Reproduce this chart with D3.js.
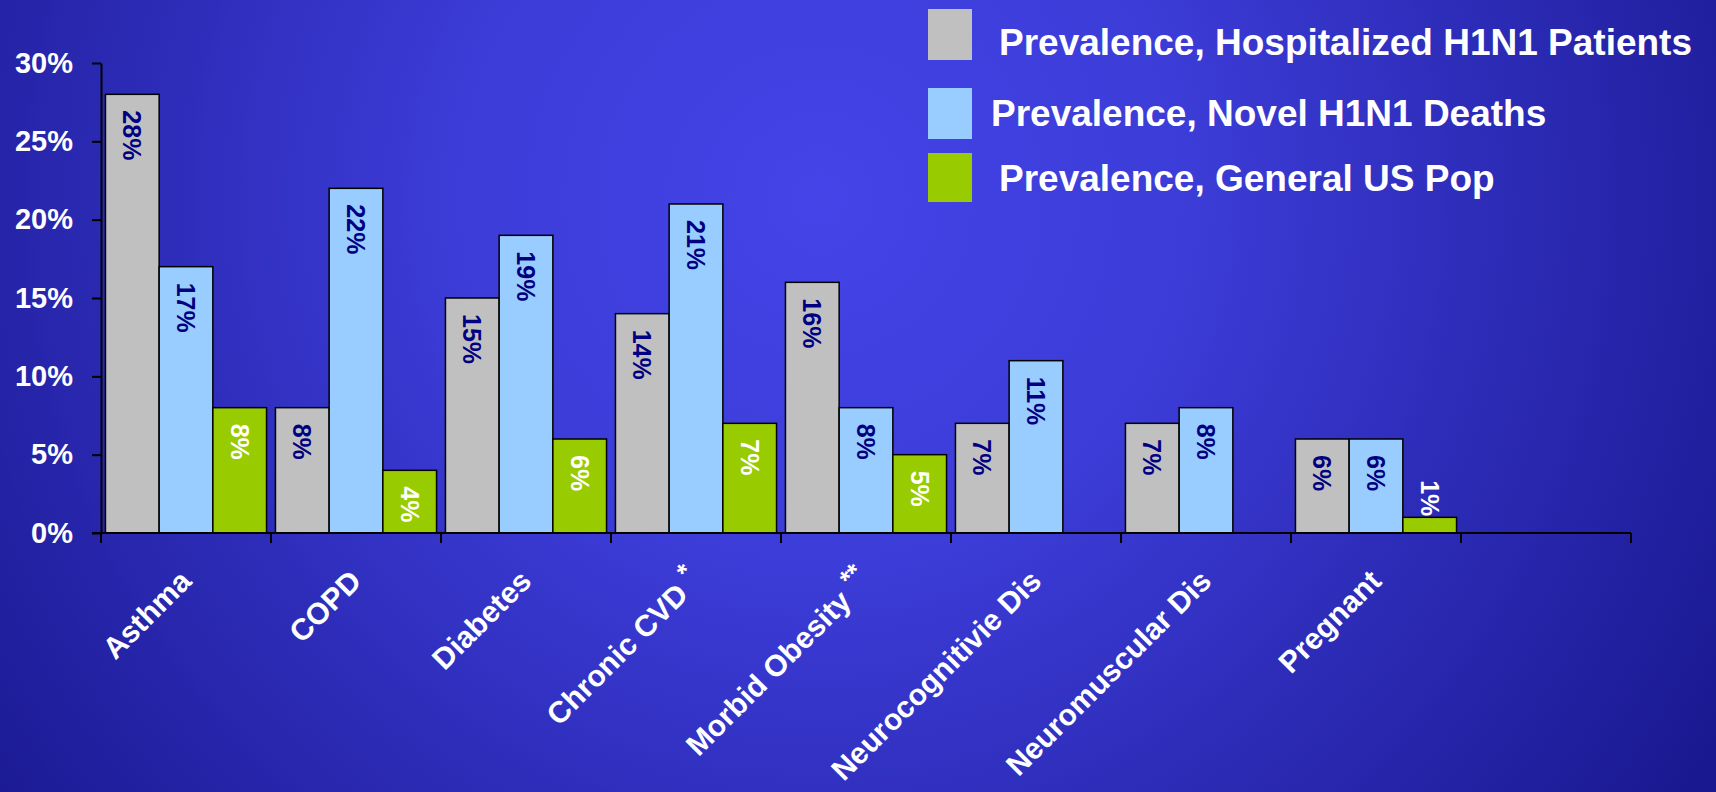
<!DOCTYPE html>
<html>
<head>
<meta charset="utf-8">
<script src="https://cdn.jsdelivr.net/npm/d3@7"></script>
<style>
  body { margin: 0; background: #1a1890; }
  svg { display: block; font-family: "Liberation Sans", Arial, sans-serif; }
</style>
</head>
<body>
<svg id="chart" width="1716" height="792"></svg>
<script>
// data
var categories = ["Asthma", "COPD", "Diabetes", "Chronic CVD *", "Morbid Obesity **",
                  "Neurocognitivie Dis", "Neuromuscular Dis", "Pregnant", ""];
var seriesNames = ["Prevalence, Hospitalized H1N1 Patients",
                   "Prevalence, Novel H1N1 Deaths",
                   "Prevalence, General US Pop"];
var hospitalized = [28, 8, 15, 14, 16, 7, 7, 6, null];
var deaths = [17, 22, 19, 21, 8, 11, 8, 6, null];
var generalPop = [8, 4, 6, 7, 5, null, null, 1, null];
var yTicks = [0, 5, 10, 15, 20, 25, 30];

var seriesColors = ["#c0c0c0", "#99ccff", "#99cc00"];
var labelColors = ["#000080", "#000080", "#ffffff"];
var seriesValues = [hospitalized, deaths, generalPop];

var svg = d3.select("#chart"),
    width = +svg.attr("width"),
    height = +svg.attr("height");

// background gradient
var defs = svg.append("defs");
var grad = defs.append("radialGradient")
    .attr("id", "bg")
    .attr("gradientUnits", "userSpaceOnUse")
    .attr("cx", 820).attr("cy", 200).attr("r", 1050);
grad.append("stop").attr("offset", 0).attr("stop-color", "#4444e8");
grad.append("stop").attr("offset", 0.35).attr("stop-color", "#3c3cd8");
grad.append("stop").attr("offset", 1).attr("stop-color", "#1a1890");

svg.append("rect")
    .attr("width", width).attr("height", height)
    .attr("fill", "url(#bg)");

var x = d3.scaleBand()
    .domain(d3.range(categories.length))
    .range([101, 1631])
    .paddingInner(0).paddingOuter(0);

var xSub = d3.scaleBand()
    .domain([0, 1, 2])
    .range([0, x.bandwidth()])
    .paddingInner(0).paddingOuter(0.083);

var y = d3.scaleLinear()
    .domain([0, 30])
    .range([533, 63]);

// flatten bars
var bars = [];
categories.forEach(function (c, i) {
    seriesValues.forEach(function (vals, s) {
        if (vals[i] != null) bars.push({ cat: i, s: s, value: vals[i] });
    });
});

var g = svg.append("g");

g.selectAll("rect.bar")
    .data(bars)
    .enter().append("rect")
    .attr("class", "bar")
    .attr("x", function (d) { return x(d.cat) + xSub(d.s); })
    .attr("y", function (d) { return y(d.value); })
    .attr("width", xSub.bandwidth())
    .attr("height", function (d) { return y(0) - y(d.value); })
    .attr("fill", function (d) { return seriesColors[d.s]; })
    .attr("stroke", "#000")
    .attr("stroke-width", 1.5);

// value labels, rotated to read downwards
var labelSize = 25;
g.selectAll("text.val")
    .data(bars)
    .enter().append("text")
    .attr("class", "val")
    .attr("font-size", labelSize)
    .attr("font-weight", "bold")
    .attr("fill", function (d) { return labelColors[d.s]; })
    .attr("dy", "0.36em")
    .text(function (d) { return d.value + "%"; })
    .each(function (d) {
        var t = d3.select(this);
        var len = this.getComputedTextLength();
        var cx = x(d.cat) + xSub(d.s) + xSub.bandwidth() / 2;
        var top = y(d.value);
        var barH = y(0) - top;
        var start;
        if (barH >= len + 24) {
            start = top + 16;
            t.attr("text-anchor", "start");
        } else {
            start = top - 1;
            t.attr("text-anchor", "end").attr("fill", "#ffffff");
        }
        t.attr("transform", "translate(" + cx + "," + start + ") rotate(90)");
    });

// y axis
var yAxis = d3.axisLeft(y)
    .tickValues(yTicks)
    .tickSize(9)
    .tickSizeOuter(0)
    .tickPadding(19)
    .tickFormat(function (d) { return d + "%"; });

var yg = svg.append("g")
    .attr("transform", "translate(101,0)")
    .call(yAxis);
yg.select(".domain").attr("stroke", "#000").attr("stroke-width", 2);
yg.selectAll(".tick line").attr("stroke", "#000").attr("stroke-width", 2);
yg.selectAll(".tick text")
    .attr("fill", "#fff")
    .attr("font-size", 29)
    .attr("font-weight", "bold")
    .attr("font-family", "'Liberation Sans', Arial, sans-serif");

// x axis: line plus boundary ticks
var bounds = d3.range(categories.length + 1).map(function (i) {
    return i < categories.length ? x(i) : x(i - 1) + x.bandwidth();
});
var xg = svg.append("g");
xg.append("line")
    .attr("x1", 92).attr("x2", bounds[bounds.length - 1])
    .attr("y1", y(0)).attr("y2", y(0))
    .attr("stroke", "#000").attr("stroke-width", 2);
xg.selectAll("line.tick")
    .data(bounds)
    .enter().append("line")
    .attr("class", "tick")
    .attr("x1", function (d) { return d; }).attr("x2", function (d) { return d; })
    .attr("y1", y(0)).attr("y2", y(0) + 10)
    .attr("stroke", "#000").attr("stroke-width", 2);

// category labels, rotated -45
xg.selectAll("text.cat")
    .data(categories)
    .enter().append("text")
    .attr("class", "cat")
    .attr("text-anchor", "end")
    .attr("font-size", 30)
    .attr("font-weight", "bold")
    .attr("fill", "#fff")
    .attr("transform", function (d, i) {
        return "translate(" + (x(i) + x.bandwidth() / 2 + 7) + ",583) rotate(-45)";
    })
    .each(function (d) {
        var t = d3.select(this);
        var m = d.match(/^(.*?)(\*+)$/);
        if (m) {
            t.append("tspan").text(m[1]);
            t.append("tspan").attr("dy", -12).attr("font-size", 26).text(m[2]);
        } else {
            t.text(d);
        }
    });

// legend
var legendY = [[9, 60, 55, 999], [88, 139, 126, 991], [153, 202, 191, 999]];
var legend = svg.append("g");
seriesNames.forEach(function (name, i) {
    var L = legendY[i];
    legend.append("rect")
        .attr("x", 928).attr("y", L[0])
        .attr("width", 44).attr("height", L[1] - L[0])
        .attr("fill", seriesColors[i]);
    legend.append("text")
        .attr("x", L[3]).attr("y", L[2])
        .attr("font-size", 37)
        .attr("font-weight", "bold")
        .attr("fill", "#fff")
        .text(name);
});
</script>
</body>
</html>
